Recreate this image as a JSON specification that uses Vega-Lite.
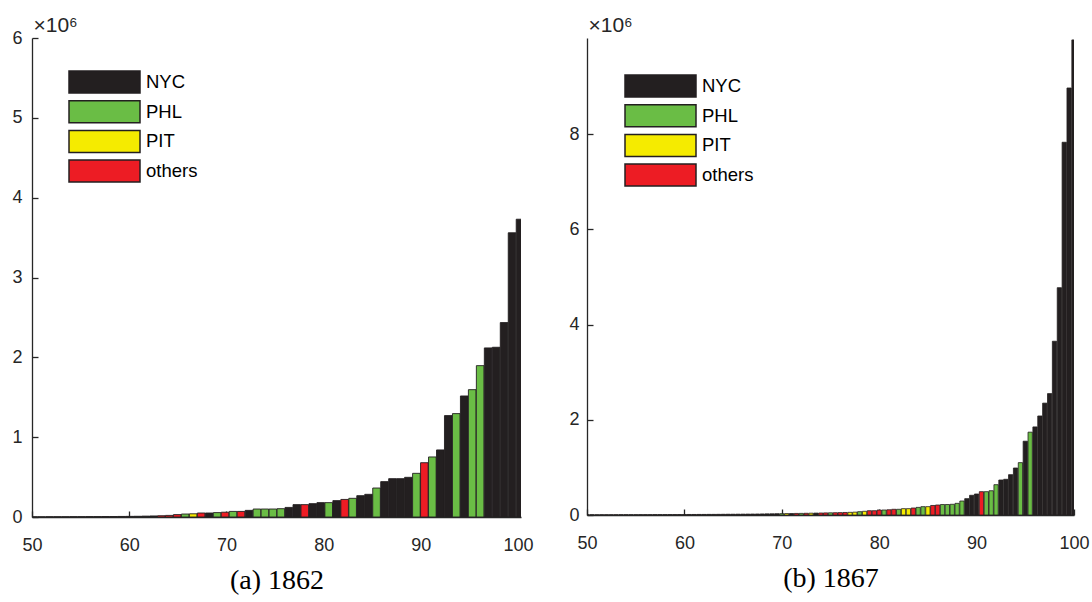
{
  "$schema": "https://vega.github.io/schema/vega-lite/v6.json",
  "padding": {"left": 11, "top": 14, "right": 0, "bottom": 3},
  "background": "#ffffff",
  "datasets": {
    "y1862": [
      {"p": 50.18, "v": 2000, "city": "NYC"},
      {"p": 51.0, "v": 2000, "city": "NYC"},
      {"p": 51.82, "v": 3000, "city": "NYC"},
      {"p": 52.64, "v": 3000, "city": "NYC"},
      {"p": 53.46, "v": 3000, "city": "NYC"},
      {"p": 54.28, "v": 4000, "city": "NYC"},
      {"p": 55.1, "v": 4000, "city": "NYC"},
      {"p": 55.92, "v": 5000, "city": "NYC"},
      {"p": 56.74, "v": 5000, "city": "NYC"},
      {"p": 57.56, "v": 6000, "city": "NYC"},
      {"p": 58.38, "v": 6000, "city": "NYC"},
      {"p": 59.2, "v": 7000, "city": "NYC"},
      {"p": 60.02, "v": 8000, "city": "NYC"},
      {"p": 60.84, "v": 9000, "city": "NYC"},
      {"p": 61.66, "v": 11000, "city": "NYC"},
      {"p": 62.48, "v": 13000, "city": "NYC"},
      {"p": 63.3, "v": 16000, "city": "others"},
      {"p": 64.12, "v": 20000, "city": "others"},
      {"p": 64.94, "v": 30000, "city": "others"},
      {"p": 65.76, "v": 37000, "city": "PHL"},
      {"p": 66.58, "v": 40000, "city": "PIT"},
      {"p": 67.4, "v": 50000, "city": "others"},
      {"p": 68.22, "v": 50000, "city": "NYC"},
      {"p": 69.04, "v": 55000, "city": "PHL"},
      {"p": 69.86, "v": 60000, "city": "others"},
      {"p": 70.68, "v": 70000, "city": "PHL"},
      {"p": 71.5, "v": 70000, "city": "others"},
      {"p": 72.32, "v": 83000, "city": "NYC"},
      {"p": 73.14, "v": 100000, "city": "PHL"},
      {"p": 73.96, "v": 100000, "city": "PHL"},
      {"p": 74.78, "v": 100000, "city": "PHL"},
      {"p": 75.6, "v": 104000, "city": "PHL"},
      {"p": 76.42, "v": 120000, "city": "NYC"},
      {"p": 77.24, "v": 155000, "city": "NYC"},
      {"p": 78.06, "v": 155000, "city": "others"},
      {"p": 78.88, "v": 167000, "city": "NYC"},
      {"p": 79.7, "v": 180000, "city": "NYC"},
      {"p": 80.52, "v": 180000, "city": "PHL"},
      {"p": 81.34, "v": 205000, "city": "NYC"},
      {"p": 82.16, "v": 220000, "city": "others"},
      {"p": 82.98, "v": 234000, "city": "PHL"},
      {"p": 83.8, "v": 267000, "city": "NYC"},
      {"p": 84.62, "v": 284000, "city": "NYC"},
      {"p": 85.44, "v": 363000, "city": "PHL"},
      {"p": 86.26, "v": 443000, "city": "NYC"},
      {"p": 87.08, "v": 480000, "city": "NYC"},
      {"p": 87.9, "v": 480000, "city": "NYC"},
      {"p": 88.72, "v": 497000, "city": "NYC"},
      {"p": 89.54, "v": 547000, "city": "PHL"},
      {"p": 90.36, "v": 680000, "city": "others"},
      {"p": 91.18, "v": 752000, "city": "PHL"},
      {"p": 92.0, "v": 840000, "city": "NYC"},
      {"p": 92.82, "v": 1270000, "city": "NYC"},
      {"p": 93.64, "v": 1295000, "city": "PHL"},
      {"p": 94.46, "v": 1516000, "city": "NYC"},
      {"p": 95.28, "v": 1595000, "city": "PHL"},
      {"p": 96.1, "v": 1896000, "city": "PHL"},
      {"p": 96.92, "v": 2118000, "city": "NYC"},
      {"p": 97.74, "v": 2126000, "city": "NYC"},
      {"p": 98.56, "v": 2435000, "city": "NYC"},
      {"p": 99.38, "v": 3560000, "city": "NYC"},
      {"p": 100.2, "v": 3730000, "city": "NYC"}
    ],
    "y1867": [
      {"p": 50.0, "v": 4000, "city": "NYC"},
      {"p": 50.5, "v": 4000, "city": "NYC"},
      {"p": 51.0, "v": 4000, "city": "NYC"},
      {"p": 51.5, "v": 5000, "city": "NYC"},
      {"p": 52.0, "v": 5000, "city": "NYC"},
      {"p": 52.5, "v": 5000, "city": "NYC"},
      {"p": 53.0, "v": 5000, "city": "NYC"},
      {"p": 53.5, "v": 6000, "city": "NYC"},
      {"p": 54.0, "v": 6000, "city": "NYC"},
      {"p": 54.5, "v": 6000, "city": "NYC"},
      {"p": 55.0, "v": 6000, "city": "NYC"},
      {"p": 55.5, "v": 7000, "city": "NYC"},
      {"p": 56.0, "v": 7000, "city": "NYC"},
      {"p": 56.5, "v": 7000, "city": "NYC"},
      {"p": 57.0, "v": 8000, "city": "NYC"},
      {"p": 57.5, "v": 8000, "city": "NYC"},
      {"p": 58.0, "v": 8000, "city": "NYC"},
      {"p": 58.5, "v": 9000, "city": "NYC"},
      {"p": 59.0, "v": 9000, "city": "NYC"},
      {"p": 59.5, "v": 10000, "city": "NYC"},
      {"p": 60.0, "v": 10000, "city": "NYC"},
      {"p": 60.5, "v": 11000, "city": "NYC"},
      {"p": 61.0, "v": 11000, "city": "NYC"},
      {"p": 61.5, "v": 12000, "city": "NYC"},
      {"p": 62.0, "v": 12000, "city": "NYC"},
      {"p": 62.5, "v": 13000, "city": "NYC"},
      {"p": 63.0, "v": 13000, "city": "NYC"},
      {"p": 63.5, "v": 14000, "city": "NYC"},
      {"p": 64.0, "v": 15000, "city": "NYC"},
      {"p": 64.5, "v": 16000, "city": "NYC"},
      {"p": 65.0, "v": 16000, "city": "NYC"},
      {"p": 65.5, "v": 17000, "city": "NYC"},
      {"p": 66.0, "v": 18000, "city": "NYC"},
      {"p": 66.5, "v": 19000, "city": "NYC"},
      {"p": 67.0, "v": 20000, "city": "NYC"},
      {"p": 67.5, "v": 21000, "city": "NYC"},
      {"p": 68.0, "v": 22000, "city": "NYC"},
      {"p": 68.5, "v": 24000, "city": "NYC"},
      {"p": 69.0, "v": 25000, "city": "NYC"},
      {"p": 69.5, "v": 27000, "city": "NYC"},
      {"p": 70.0, "v": 28000, "city": "PHL"},
      {"p": 70.5, "v": 30000, "city": "PIT"},
      {"p": 71.0, "v": 31000, "city": "NYC"},
      {"p": 71.5, "v": 33000, "city": "others"},
      {"p": 72.0, "v": 34000, "city": "PHL"},
      {"p": 72.5, "v": 36000, "city": "others"},
      {"p": 73.0, "v": 38000, "city": "PIT"},
      {"p": 73.5, "v": 40000, "city": "NYC"},
      {"p": 74.0, "v": 42000, "city": "others"},
      {"p": 74.5, "v": 44000, "city": "others"},
      {"p": 75.0, "v": 46000, "city": "PHL"},
      {"p": 75.5, "v": 48000, "city": "others"},
      {"p": 76.0, "v": 50000, "city": "others"},
      {"p": 76.5, "v": 53000, "city": "others"},
      {"p": 77.0, "v": 56000, "city": "PIT"},
      {"p": 77.5, "v": 60000, "city": "PIT"},
      {"p": 78.0, "v": 70000, "city": "PHL"},
      {"p": 78.5, "v": 78000, "city": "PIT"},
      {"p": 79.0, "v": 90000, "city": "others"},
      {"p": 79.5, "v": 90000, "city": "others"},
      {"p": 80.0, "v": 105000, "city": "others"},
      {"p": 80.5, "v": 105000, "city": "PHL"},
      {"p": 81.0, "v": 110000, "city": "others"},
      {"p": 81.5, "v": 120000, "city": "others"},
      {"p": 82.0, "v": 120000, "city": "PHL"},
      {"p": 82.5, "v": 133000, "city": "PIT"},
      {"p": 83.0, "v": 133000, "city": "PIT"},
      {"p": 83.5, "v": 147000, "city": "others"},
      {"p": 84.0, "v": 160000, "city": "PHL"},
      {"p": 84.5, "v": 175000, "city": "PHL"},
      {"p": 85.0, "v": 175000, "city": "PIT"},
      {"p": 85.5, "v": 200000, "city": "others"},
      {"p": 86.0, "v": 210000, "city": "others"},
      {"p": 86.5, "v": 220000, "city": "PHL"},
      {"p": 87.0, "v": 220000, "city": "PHL"},
      {"p": 87.5, "v": 225000, "city": "PHL"},
      {"p": 88.0, "v": 245000, "city": "PHL"},
      {"p": 88.5, "v": 294000, "city": "PHL"},
      {"p": 89.0, "v": 343000, "city": "NYC"},
      {"p": 89.5, "v": 414000, "city": "NYC"},
      {"p": 90.0, "v": 441000, "city": "NYC"},
      {"p": 90.5, "v": 490000, "city": "others"},
      {"p": 91.0, "v": 490000, "city": "PHL"},
      {"p": 91.5, "v": 510000, "city": "PHL"},
      {"p": 92.0, "v": 637000, "city": "PHL"},
      {"p": 92.5, "v": 735000, "city": "NYC"},
      {"p": 93.0, "v": 750000, "city": "NYC"},
      {"p": 93.5, "v": 847000, "city": "NYC"},
      {"p": 94.0, "v": 987000, "city": "NYC"},
      {"p": 94.5, "v": 1100000, "city": "PHL"},
      {"p": 95.0, "v": 1550000, "city": "NYC"},
      {"p": 95.5, "v": 1740000, "city": "PHL"},
      {"p": 96.0, "v": 1850000, "city": "NYC"},
      {"p": 96.5, "v": 2080000, "city": "NYC"},
      {"p": 97.0, "v": 2350000, "city": "NYC"},
      {"p": 97.5, "v": 2550000, "city": "NYC"},
      {"p": 98.0, "v": 3650000, "city": "NYC"},
      {"p": 98.5, "v": 4775000, "city": "NYC"},
      {"p": 99.0, "v": 7830000, "city": "NYC"},
      {"p": 99.5, "v": 8970000, "city": "NYC"},
      {"p": 100.0, "v": 9980000, "city": "NYC"}
    ]
  },
  "config": {
    "view": {"stroke": null},
    "font": "Liberation Sans",
    "axis": {
      "grid": false,
      "domainColor": "#262626",
      "domainWidth": 1.3,
      "tickColor": "#262626",
      "tickWidth": 1.3,
      "tickSize": -6,
      "labelFont": "Liberation Sans",
      "labelFontSize": 18,
      "labelColor": "#262626",
      "labelFlush": false
    },
    "axisX": {"labelPadding": 25},
    "legend": {
      "orient": "none",
      "title": null,
      "symbolType": "M-1,-0.31L1,-0.31L1,0.31L-1,0.31Z",
      "symbolSize": 5041,
      "symbolStrokeColor": "#231f20",
      "symbolStrokeWidth": 1.5,
      "symbolOpacity": 1,
      "clipHeight": 28,
      "labelFont": "Liberation Sans",
      "labelFontSize": 18.5,
      "labelColor": "#000000",
      "labelOffset": 5,
      "rowPadding": 1.7
    }
  },
  "resolve": {"legend": {"color": "independent"}},
  "spacing": 34,
  "hconcat": [
    {
      "width": 489,
      "height": 479,
      "data": {"name": "y1862"},
      "mark": {"type": "bar", "size": 7.6, "stroke": "#231f20", "strokeWidth": 0.9, "clip": true, "orient": "vertical"},
      "encoding": {
        "x": {
          "field": "p", "type": "quantitative",
          "scale": {"domain": [50, 100.3], "nice": false, "zero": false, "padding": 0},
          "axis": {"values": [50, 60, 70, 80, 90, 100], "labelFlush": false, "title": "(a) 1862", "titleFont": "Liberation Serif", "titleFontSize": 28, "titleFontWeight": "normal", "titleColor": "#000000", "titlePadding": 12}
        },
        "y": {
          "field": "v", "type": "quantitative",
          "scale": {"domain": [0, 6000000], "nice": false},
          "axis": {"values": [0, 1000000, 2000000, 3000000, 4000000, 5000000, 6000000], "labelPadding": 16, "labelExpr": "format(datum.value / 1000000, 'd')", "title": "×10⁶", "titleAngle": 0, "titleAlign": "left", "titleBaseline": "alphabetic", "titleX": 1, "titleY": -7, "titleFont": "Liberation Sans", "titleFontSize": 21, "titleFontWeight": "normal", "titleColor": "#262626"}
        },
        "color": {
          "field": "city", "type": "nominal",
          "scale": {"domain": ["NYC", "PHL", "PIT", "others"], "range": ["#231f20", "#6abd45", "#f5eb00", "#ed1c24"]},
          "legend": {"legendX": 36, "legendY": 30}
        }
      }
    },
    {
      "width": 487,
      "height": 477,
      "data": {"name": "y1867"},
      "mark": {"type": "bar", "size": 4.3, "stroke": "#231f20", "strokeWidth": 0.8, "clip": true, "orient": "vertical"},
      "encoding": {
        "x": {
          "field": "p", "type": "quantitative",
          "scale": {"domain": [50, 100], "nice": false, "zero": false, "padding": 0},
          "axis": {"values": [50, 60, 70, 80, 90, 100], "labelFlush": false, "title": "(b) 1867", "titleFont": "Liberation Serif", "titleFontSize": 28, "titleFontWeight": "normal", "titleColor": "#000000", "titlePadding": 12}
        },
        "y": {
          "field": "v", "type": "quantitative",
          "scale": {"domain": [0, 10020000], "nice": false},
          "axis": {"values": [0, 2000000, 4000000, 6000000, 8000000], "labelPadding": 14, "labelExpr": "format(datum.value / 1000000, 'd')", "title": "×10⁶", "titleAngle": 0, "titleAlign": "left", "titleBaseline": "alphabetic", "titleX": 1, "titleY": -7, "titleFont": "Liberation Sans", "titleFontSize": 21, "titleFontWeight": "normal", "titleColor": "#262626"}
        },
        "color": {
          "field": "city", "type": "nominal",
          "scale": {"domain": ["NYC", "PHL", "PIT", "others"], "range": ["#231f20", "#6abd45", "#f5eb00", "#ed1c24"]},
          "legend": {"legendX": 37, "legendY": 34}
        }
      }
    }
  ]
}
